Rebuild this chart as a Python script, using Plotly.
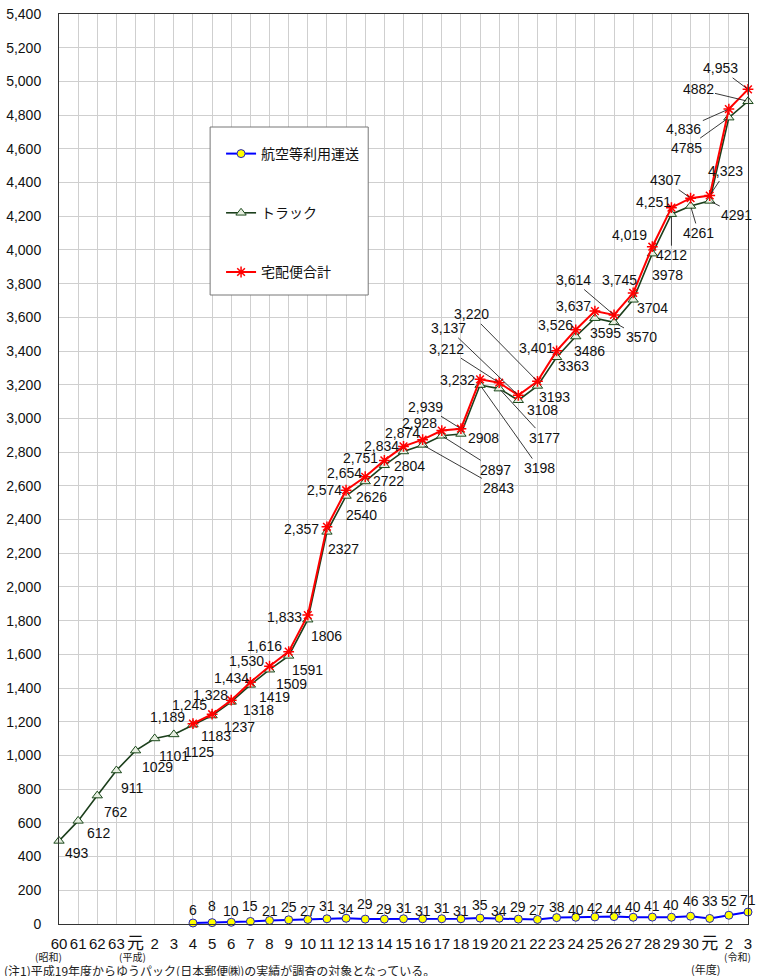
import plotly.graph_objects as go

# ---------------- data ----------------
categories = ["S60", "S61", "S62", "S63", "H元", "H2", "H3", "H4", "H5", "H6", "H7", "H8",
              "H9", "H10", "H11", "H12", "H13", "H14", "H15", "H16", "H17", "H18", "H19",
              "H20", "H21", "H22", "H23", "H24", "H25", "H26", "H27", "H28", "H29", "H30",
              "R元", "R2", "R3"]
tick_labels = ["60", "61", "62", "63", "元", "2", "3", "4", "5", "6", "7", "8", "9", "10",
               "11", "12", "13", "14", "15", "16", "17", "18", "19", "20", "21", "22", "23",
               "24", "25", "26", "27", "28", "29", "30", "元", "2", "3"]

truck = [493, 612, 762, 911, 1029, 1101, 1125, 1183, 1237, 1318, 1419, 1509, 1591, 1806,
         2327, 2540, 2626, 2722, 2804, 2843, 2897, 2908, 3198, 3177, 3108, 3193, 3363, 3486,
         3595, 3570, 3704, 3978, 4212, 4261, 4291, 4785, 4882]
air = [None, None, None, None, None, None, None, 6, 8, 10, 15, 21, 25, 27, 31, 34, 29, 29,
       31, 31, 31, 31, 35, 34, 29, 27, 38, 40, 42, 44, 40, 41, 40, 46, 33, 52, 71]
total = [None, None, None, None, None, None, None, 1189, 1245, 1328, 1434, 1530, 1616, 1833,
         2357, 2574, 2654, 2751, 2834, 2874, 2928, 2939, 3232, 3212, 3137, 3220, 3401, 3526,
         3637, 3614, 3745, 4019, 4251, 4307, 4323, 4836, 4953]

series_names = ["航空等利用運送", "トラック", "宅配便合計"]

# ---------------- label placement (pixels: dx right, dy down, leader line?) ----------------
truck_pos = [(18, 12, 0), (21, 12, 0), (19, 16, 0), (16, 18, 0), (22, 16, 0), (19, 18, 0),
             (25, 18, 0), (23, 11, 0), (27, 11, 0), (27, 8, 0), (24, 12, 0), (22, 14, 0),
             (19, 14, 0), (19, 16, 0), (17, 17, 0), (15, 19, 0), (6, 16, 0), (4, 16, 0),
             (6, 15, 0), (76, 43, 1), (54, 34, 1), (23, 4, 0), (59, 83, 1), (45, 49, 1),
             (24, 10, 0), (17, 11, 0), (17, 9, 0), (14, 14, 0), (11, 15, 0), (27, 15, 1),
             (19, 8, 0), (15, 21, 0), (0, 41, 1), (8, 27, 1), (27, 14, 1), (-42, 30, 1),
             (-50, -12, 1)]
total_pos = {7: (-25, -7, 0), 8: (-23, -9, 0), 9: (-21, -5, 0), 10: (-19, -4, 0),
             11: (-23, -5, 0), 12: (-24, -6, 0), 13: (-23, 2, 0), 14: (-25, 2, 0),
             15: (-22, 0, 0), 16: (-21, -4, 0), 17: (-24, -2, 0), 18: (-22, 0, 0),
             19: (-20, -7, 0), 20: (-22, -8, 0), 21: (-35, -22, 1), 22: (-23, 1, 0),
             23: (-53, -34, 1), 24: (-70, -67, 1), 25: (-66, -67, 1), 26: (-20, -3, 0),
             27: (-20, -5, 0), 28: (-21, -5, 0), 29: (-41, -35, 1), 30: (-14, -13, 0),
             31: (-23, -12, 0), 32: (-18, -6, 0), 33: (-25, -18, 1), 34: (16, -24, 1),
             35: (-45, 20, 1), 36: (-28, -21, 1)}
total_plain = {33}
air_dy = {7: -13, 8: -17, 9: -11, 10: -15, 11: -9, 12: -13, 13: -8, 14: -13, 15: -9,
          16: -15, 17: -10, 18: -11, 19: -8, 20: -11, 21: -8, 22: -13, 23: -7, 24: -12,
          25: -9, 26: -11, 27: -7, 28: -9, 29: -7, 30: -10, 31: -11, 32: -12, 33: -15,
          34: -17, 35: -14, 36: -12}

FONT = "Liberation Sans, Arial, Noto Sans CJK JP, sans-serif"
JFONT = "Noto Sans CJK JP, sans-serif"

W, H = 758, 976
ML, MR, MT, MB = 59, 6, 14, 52
PW, PH = W - ML - MR, H - MT - MB


def pxx(px):
    return (px - ML) / PW


def pxy(py):
    return (H - MB - py) / PH


fig = go.Figure()

fig.add_trace(go.Scatter(
    x=categories, y=air, name=series_names[0], mode="lines+markers",
    line=dict(color="#0000FF", width=2),
    marker=dict(symbol="circle", size=8, color="#FFFF00", line=dict(color="#2020C0", width=1)),
    legendgroup="a", cliponaxis=False, connectgaps=False))
fig.add_trace(go.Scatter(
    x=categories, y=truck, name=series_names[1], mode="lines+markers",
    line=dict(color="#1C3F1C", width=1.6),
    marker=dict(symbol="triangle-up", size=9, color="#E6EEE0", line=dict(color="#1C4A1C", width=1)),
    legendgroup="b", cliponaxis=False))
fig.add_trace(go.Scatter(
    x=categories, y=total, name=series_names[2], mode="lines+markers",
    line=dict(color="#FF0000", width=2),
    marker=dict(symbol="asterisk-open", size=9, color="#FF0000", line=dict(color="#FF0000", width=1.5)),
    legendgroup="c", cliponaxis=False, connectgaps=False))

annotations = []
lab_font = dict(family=FONT, size=14, color="#111111")


def add_label(cat, val, text, dx, dy, leader):
    if leader:
        annotations.append(dict(x=cat, y=val, xref="x", yref="y", text=text, showarrow=True,
                                ax=dx, ay=dy, arrowhead=0, arrowwidth=0.9, arrowcolor="#222222",
                                standoff=2, font=lab_font))
    else:
        annotations.append(dict(x=cat, y=val, xref="x", yref="y", text=text, showarrow=False,
                                xshift=dx, yshift=-dy, font=lab_font))


for i, v in enumerate(truck):
    dx, dy, ld = truck_pos[i]
    add_label(categories[i], v, str(v), dx, dy, ld)
for i, v in enumerate(total):
    if v is None:
        continue
    dx, dy, ld = total_pos[i]
    txt = str(v) if i in total_plain else f"{v:,}"
    add_label(categories[i], v, txt, dx, dy, ld)
for i, v in enumerate(air):
    if v is None:
        continue
    add_label(categories[i], v, str(v), 0, air_dy[i], 0)


def paper_text(px, py, text, size, xanchor="center"):
    return dict(x=pxx(px), y=pxy(py), xref="paper", yref="paper", text=text,
                showarrow=False, xanchor=xanchor, yanchor="middle",
                font=dict(family=JFONT, size=size, color="#222222"))


annotations += [
    paper_text(48, 956, "(昭和)", 10),
    paper_text(133, 956, "(平成)", 10),
    paper_text(741, 956, "(令和)", 10),
    paper_text(709, 969, "(年度)", 11),
    paper_text(2, 970, "(注1)平成19年度からゆうパック(日本郵便㈱)の実績が調査の対象となっている。",
               12, xanchor="left"),
]

ticktext = [f'<span style="font-size:17px">{t}</span>' if t == "元" else t for t in tick_labels]

fig.update_layout(
    width=W, height=H, margin=dict(l=ML, r=MR, t=MT, b=MB),
    paper_bgcolor="white", plot_bgcolor="white",
    font=dict(family=FONT, size=14, color="#111111"),
    showlegend=True,
    legend=dict(x=pxx(222), y=pxy(138), xanchor="left", yanchor="top",
                bgcolor="rgba(0,0,0,0)", borderwidth=0, tracegroupgap=38,
                font=dict(family=JFONT, size=14, color="#111111"), itemwidth=30),
    shapes=[dict(type="rect", xref="paper", yref="paper", x0=pxx(211), x1=pxx(370),
                 y0=pxy(295), y1=pxy(127), fillcolor="white",
                 line=dict(color="#777777", width=1), layer="above")],
    annotations=annotations,
    xaxis=dict(type="category", categoryorder="array", categoryarray=categories,
               range=[0, 36], tickmode="array", tickvals=categories, ticktext=ticktext,
               showgrid=True, gridcolor="#CFCFCF", gridwidth=1,
               showline=True, linecolor="#333333", linewidth=1, mirror=True,
               ticks="", tickfont=dict(family=FONT, size=15, color="#111111"),
               ticklabelstandoff=6, zeroline=False),
    yaxis=dict(range=[0, 5400], dtick=200, tickformat=",d", showgrid=True,
               gridcolor="#CFCFCF", gridwidth=1, showline=True, linecolor="#333333",
               linewidth=1, mirror=True, ticks="", ticklabelstandoff=14,
               tickfont=dict(family=FONT, size=14, color="#111111"), zeroline=False),
)

fig.write_html("out.html")
